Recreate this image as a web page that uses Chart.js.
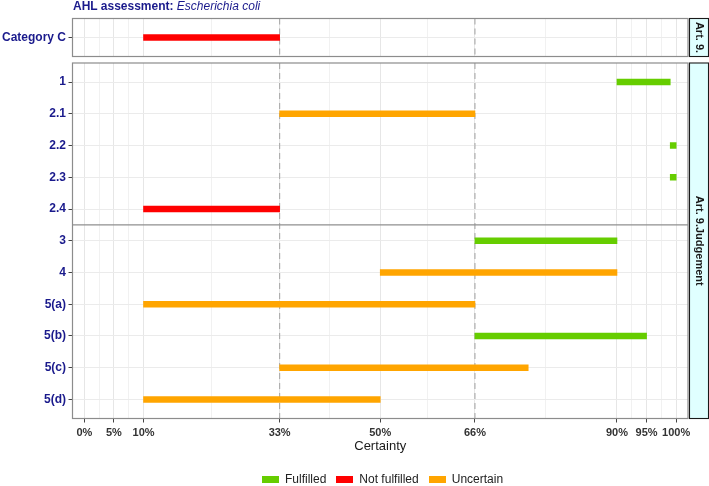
<!DOCTYPE html>
<html>
<head>
<meta charset="utf-8">
<script src="https://cdn.jsdelivr.net/npm/chart.js@4/dist/chart.umd.min.js"></script>
<style>
html,body{margin:0;padding:0;background:#fff;}
#wrap{position:relative;width:709px;height:486px;overflow:hidden;font-family:'Liberation Sans',Arial,sans-serif;}
#wrap canvas{position:absolute;left:0;top:0;}
#title{position:absolute;left:73px;top:-1px;font-size:12px;line-height:14px;color:#1a1a8c;white-space:nowrap;}
#title b{font-weight:bold;}
#title i{font-style:italic;}
#legend{position:absolute;top:471px;left:262px;height:16px;display:flex;align-items:center;font-size:12px;color:#222;white-space:nowrap;}
#legend .key{width:17px;height:7px;margin-right:6px;}
#legend .lab{margin-right:10px;}
</style>
</head>
<body>
<div id="wrap">
  <canvas id="topChart" width="709" height="486"></canvas>
  <canvas id="mainChart" width="709" height="486"></canvas>
  <div id="title"><b>AHL assessment:</b> <i>Escherichia coli</i></div>
  <div id="legend"></div>
</div>
<script>
// ---- data ----
const topCategories = ['Category C'];
const topStart = [10];
const topEnd = [33];
const topStatus = ['Not fulfilled'];

const categories = ['1', '2.1', '2.2', '2.3', '2.4', '3', '4', '5(a)', '5(b)', '5(c)', '5(d)'];
const startValues = [90, 33, 99, 99, 10, 66, 50, 10, 66, 33, 10];
const endValues   = [99, 66, 100, 100, 33, 90, 90, 66, 95, 75, 50];
const statusValues = ['Fulfilled', 'Uncertain', 'Fulfilled', 'Fulfilled', 'Not fulfilled',
                      'Fulfilled', 'Uncertain', 'Uncertain', 'Fulfilled', 'Uncertain', 'Uncertain'];

const statusNames = ['Fulfilled', 'Not fulfilled', 'Uncertain'];
const statusColors = ['#66CD00', '#FF0000', '#FFA500'];

const xMajorTicks = [0, 5, 10, 33, 50, 66, 90, 95, 100];
const xMinorTicks = [2.5, 7.5, 21.5, 41.5, 58, 78, 92.5, 97.5];
const dashedLines = [33, 66];
const groupBreaks = [4.5];
const topStrip = 'Art. 9.';
const mainStrip = 'Art. 9.Judgement';
const xTitle = 'Certainty';

// ---- helpers ----
Chart.defaults.font.family = "'Liberation Sans', Arial, sans-serif";

function buildDatasets(cats, starts, ends, stats) {
  return statusNames.map((name, k) => ({
    label: name,
    data: cats.map((c, i) => stats[i] === name ? {x: [starts[i], ends[i]], y: i} : null).filter(Boolean),
    backgroundColor: statusColors[k],
    borderWidth: 0,
    borderSkipped: false,
    barThickness: 6,
    grouped: false
  }));
}

function xScale(showLabels) {
  const allTicks = [...xMajorTicks, ...xMinorTicks].sort((a, b) => a - b);
  return {
    type: 'linear', min: -2, max: 102,
    afterBuildTicks: s => { s.ticks = allTicks.map(v => ({value: v})); },
    ticks: {
      display: showLabels, autoSkip: false, maxRotation: 0, padding: 4,
      color: '#333', font: {size: 11, weight: 'bold'},
      callback: v => xMajorTicks.includes(v) ? v + '%' : ''
    },
    grid: {
      color: c => xMajorTicks.includes(c.tick && c.tick.value) ? '#e6e6e6' : '#f1f1f1',
      lineWidth: 1,
      drawTicks: showLabels, tickLength: 4,
      tickColor: c => xMajorTicks.includes(c.tick && c.tick.value) ? '#444' : 'rgba(0,0,0,0)'
    },
    border: {display: false},
    title: showLabels ? {display: true, text: xTitle, color: '#1a1a1a', font: {size: 13}, padding: 0} : {display: false},
    afterFit: s => { s.height = showLabels ? 36 : 0; }
  };
}

function yScale(labels) {
  const n = labels.length;
  return {
    type: 'linear', reverse: true, min: -0.6, max: n - 1 + 0.6, offset: false,
    afterBuildTicks: s => { s.ticks = labels.map((_, i) => ({value: i})); },
    ticks: {
      autoSkip: false, padding: 2.5, color: '#1a1a8c',
      font: {size: 12, weight: 'bold'},
      callback: v => labels[v] !== undefined ? labels[v] : ''
    },
    grid: {offset: false, color: '#ebebeb', lineWidth: 1, drawTicks: true, tickLength: 4, tickColor: '#444'},
    border: {display: false},
    afterFit: s => { s.width = 72.5; }
  };
}

const panelPlugin = {
  id: 'panelDecor',
  beforeDatasetsDraw(chart, args, opts) {
    const {ctx, chartArea: a, scales: {x, y}} = chart;
    ctx.save();
    ctx.strokeStyle = '#ababab';
    ctx.lineWidth = 1.1;
    ctx.setLineDash([6, 4]);
    dashedLines.forEach(v => {
      const px = x.getPixelForValue(v);
      ctx.beginPath(); ctx.moveTo(px, a.top); ctx.lineTo(px, a.bottom); ctx.stroke();
    });
    ctx.setLineDash([]);
    ctx.strokeStyle = '#8f8f8f';
    ctx.lineWidth = 1.2;
    (opts.hlines || []).forEach(v => {
      const py = y.getPixelForValue(v);
      ctx.beginPath(); ctx.moveTo(a.left, py); ctx.lineTo(a.right, py); ctx.stroke();
    });
    ctx.restore();
  },
  afterDraw(chart, args, opts) {
    const {ctx, chartArea: a} = chart;
    ctx.save();
    ctx.strokeStyle = '#8c8c8c';
    ctx.lineWidth = 1.2;
    ctx.strokeRect(a.left, a.top, a.right - a.left, a.bottom - a.top);
    // strip
    const sx = a.right + 1.5, sw = 19;
    ctx.fillStyle = '#E0FFFF';
    ctx.fillRect(sx, a.top, sw, a.bottom - a.top);
    ctx.strokeStyle = '#1a1a1a';
    ctx.lineWidth = 1.1;
    ctx.strokeRect(sx, a.top, sw, a.bottom - a.top);
    ctx.translate(sx + sw / 2, (a.top + a.bottom) / 2);
    ctx.rotate(Math.PI / 2);
    ctx.fillStyle = '#1a1a1a';
    ctx.font = "bold 11px 'Liberation Sans', Arial, sans-serif";
    ctx.textAlign = 'center';
    ctx.textBaseline = 'middle';
    ctx.fillText(opts.strip || '', 0, 0);
    ctx.restore();
  }
};

function makeChart(id, cats, starts, ends, stats, showX, padding, decor) {
  return new Chart(document.getElementById(id), {
    type: 'bar',
    data: {datasets: buildDatasets(cats, starts, ends, stats)},
    options: {
      indexAxis: 'y',
      responsive: false,
      animation: false,
      devicePixelRatio: 1,
      layout: {padding: padding},
      scales: {x: xScale(showX), y: yScale(cats)},
      plugins: {legend: {display: false}, tooltip: {enabled: false}, panelDecor: decor}
    },
    plugins: [panelPlugin]
  });
}

makeChart('topChart', topCategories, topStart, topEnd, topStatus, false,
  {left: 0, right: 21, top: 18.5, bottom: 429.5}, {strip: topStrip, hlines: []});
makeChart('mainChart', categories, startValues, endValues, statusValues, true,
  {left: 0, right: 21, top: 63, bottom: 31.5}, {strip: mainStrip, hlines: groupBreaks});

// legend
const leg = document.getElementById('legend');
statusNames.forEach((name, k) => {
  const key = document.createElement('span');
  key.className = 'key';
  key.style.background = statusColors[k];
  const lab = document.createElement('span');
  lab.className = 'lab';
  lab.textContent = name;
  leg.appendChild(key);
  leg.appendChild(lab);
});
</script>
</body>
</html>
